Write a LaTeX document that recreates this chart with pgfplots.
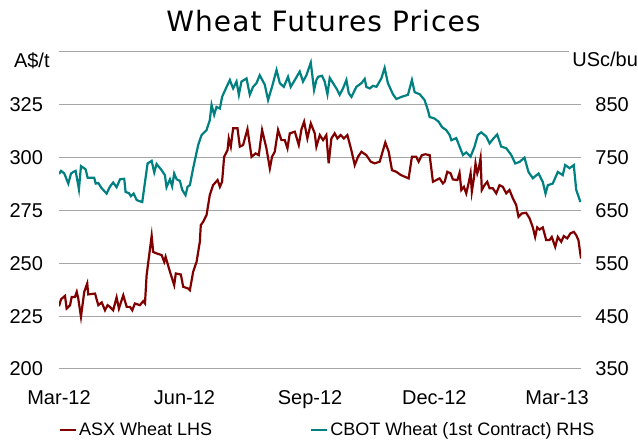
\documentclass[border=0pt]{standalone}
\usepackage{fontspec}
\setmainfont{Liberation Sans}
\newfontfamily\titlefont[LetterSpace=4]{DejaVu Sans}
\usepackage{pgfplots}
\usepackage{pgfplotstable}
\pgfplotsset{compat=1.18}
\definecolor{asx}{RGB}{128,0,0}
\definecolor{cbot}{RGB}{0,128,128}
\definecolor{gridc}{RGB}{166,166,166}

\pgfplotstableread{
day val
0 229.7
1.5 233.0
4.4 234.6
5.6 228.6
8.1 230.2
9.3 234.1
11.7 234.1
13.0 236.5
14.1 233.4
16.1 224.7
18.5 236.5
20.7 240.5
21.4 235.3
26.4 235.7
28.8 230.2
31.3 231.5
33.7 227.8
35.6 230.2
37.3 229.4
39.7 227.8
42.2 233.9
43.9 228.6
47.1 234.9
49.6 229.4
52.0 229.4
53.7 227.8
55.6 231.0
59.3 230.2
61.7 232.1
63.0 231.0
64.2 244.4
67.9 263.0
69.0 255.4
71.5 254.7
75.2 253.9
77.1 250.7
78.1 253.1
81.3 246.0
84.4 239.7
85.6 245.2
89.3 244.7
91.0 238.9
94.6 238.1
95.9 237.3
98.3 246.0
100.8 250.7
103.2 260.2
103.9 268.1
105.6 269.6
108.1 272.8
110.5 282.3
112.9 287.0
116.2 289.4
117.9 286.2
119.5 288.6
121.0 300.4
123.5 303.6
124.4 309.1
125.9 305.2
127.6 313.9
130.8 313.9
132.5 305.2
134.9 306.0
138.1 313.5
141.1 300.4
144.0 302.0
146.4 301.2
148.8 313.1
152.0 304.4
154.5 294.9
156.1 300.4
158.1 302.8
160.5 313.1
163.0 308.3
165.4 308.3
167.4 304.4
169.1 311.5
172.8 312.3
175.7 306.0
177.7 313.5
179.6 317.0
182.0 309.1
184.5 316.2
187.4 311.5
188.6 305.2
191.1 310.7
193.5 308.3
195.9 310.7
197.6 297.3
199.6 309.1
202.0 311.5
204.0 309.1
206.4 310.7
208.8 309.1
211.3 310.7
214.2 303.6
216.7 296.5
219.1 300.4
221.6 302.8
225.2 301.2
228.4 298.1
231.3 297.3
235.0 298.1
239.1 307.2
241.6 302.8
244.0 294.1
247.2 293.3
250.4 291.8
253.3 291.0
256.2 290.2
258.6 300.4
261.8 300.4
263.5 298.1
265.9 301.2
268.4 301.6
271.6 301.2
274.0 288.6
276.5 289.4
278.9 290.2
281.3 287.8
282.6 288.6
284.5 293.3
286.9 292.6
288.6 289.7
291.9 289.4
293.5 292.8
294.8 284.7
296.7 286.2
298.4 283.1
300.1 287.8
301.6 292.6
302.5 283.9
304.0 290.2
305.2 297.3
306.5 292.6
307.6 294.9
308.9 299.7
309.8 284.7
311.8 287.0
313.8 288.6
315.5 285.5
317.9 285.5
320.4 283.1
322.8 287.0
325.2 286.2
327.7 283.1
330.1 284.7
332.6 280.7
335.0 277.6
336.7 272.0
339.1 273.6
342.3 273.9
344.8 271.3
347.2 267.0
348.9 262.5
350.4 267.0
352.1 266.0
354.5 267.0
357.0 261.0
359.4 261.0
361.1 262.5
363.6 257.8
365.5 262.5
368.0 260.2
369.9 262.9
372.4 261.8
374.8 264.2
377.2 264.9
379.0 263.3
380.6 261.0
382.5 252.3
}\asxdata

\pgfplotstableread{
day val
0 719
1.5 725
3.9 720
6.8 701
8.8 720
10.5 723
12.2 725
14.6 690
16.1 734
19.5 728
21.0 712
25.8 712
26.9 701
28.8 702
31.3 692
34.9 682
37.3 695
39.7 703
42.2 694
44.7 709
47.8 710
48.8 685
51.2 683
52.7 677
54.7 682
56.9 670
58.6 668
61.0 666
64.9 739
67.9 744
69.8 722
71.5 738
74.7 728
77.6 717
78.8 694
81.3 709
82.9 696
84.4 720
86.2 709
88.6 706
90.3 689
92.7 679
94.2 695
95.9 698
98.3 730
102.0 774
104.5 793
108.1 802
110.5 821
111.8 850
113.7 831
115.4 846
117.9 843
119.5 865
122.8 884
125.2 897
127.6 881
130.1 894
131.8 869
133.7 894
137.4 900
139.8 869
142.2 884
144.7 891
147.1 906
150.8 888
153.2 859
156.1 884
159.4 916
161.8 891
164.7 884
167.8 903
169.8 884
172.8 897
176.4 913
178.8 894
181.3 906
184.5 930
186.9 878
188.6 897
189.8 903
192.7 905
194.7 894
196.7 870
198.4 901
200.8 891
203.3 881
205.7 869
208.1 881
210.6 897
212.3 872
214.3 865
217.9 884
221.6 891
224.0 899
225.2 884
227.7 881
230.1 886
232.6 884
236.2 900
238.6 920
241.0 891
244.7 870
247.2 861
250.9 865
255.7 869
258.6 897
260.6 874
264.3 870
267.9 859
270.3 840
271.6 827
275.2 824
278.2 818
280.6 808
283.8 802
286.2 793
287.5 783
291.1 787
293.5 771
296.0 755
298.4 760
301.6 752
304.5 771
306.9 793
309.4 798
313.1 790
315.5 777
317.9 785
321.1 794
324.0 771
327.7 768
331.4 755
334.3 739
337.5 742
341.1 750
344.0 723
347.2 711
351.4 720
354.5 704
356.5 682
358.2 698
361.8 701
365.5 723
369.1 717
370.9 736
374.1 730
377.2 736
379.0 689
382.1 666
}\cbotdata

\begin{document}
\begin{tikzpicture}
\useasboundingbox (-29.5pt,-37pt) rectangle (289.5pt,184.5pt);
\pgfplotsset{
  common/.style={
    width=261pt, height=158.5pt, scale only axis,
    xmin=0, xmax=382.5,
    clip mode=individual,
    axis line style={draw=none},
    major tick length=0pt,
    tick style={draw=none},
    /pgf/number format/assume math mode=true,
    tick label style={font=\fontsize{10}{12}\selectfont},
  }
}
\begin{axis}[common,
  axis x line*=bottom, axis y line*=left,
  ymin=200, ymax=350,
  ytick={200,225,250,275,300,325,350},
  yticklabels={200,225,250,275,300,325,{}},
  ymajorgrids,
  grid style={gridc, line width=0.5pt},
  xtick={0,92,184,275,365},
  xticklabels={Mar-12,Jun-12,Sep-12,Dec-12,Mar-13},
  xticklabel style={anchor=north, inner sep=0pt, yshift=-10.8pt},
  yticklabel style={anchor=east, inner sep=0pt, xshift=-7.85pt},
]
\addplot[asx, line width=1.1pt] table[x=day, y=val] {\asxdata};
\node[anchor=east, inner sep=0pt, font=\fontsize{10}{12}\selectfont] at ([xshift=-4.5pt,yshift=-4.5pt]rel axis cs:0,1) {A\$/t};
\node[anchor=base, inner sep=0pt, font=\titlefont\fontsize{14}{16}\selectfont] at ([xshift=1.7pt,yshift=10.15pt]rel axis cs:0.5,1) {Wheat Futures Prices};
\end{axis}
\begin{axis}[common,
  axis x line=none, axis y line*=right,
  ymin=350, ymax=950,
  ytick={350,450,...,850},
  yticklabel style={anchor=west, inner sep=0pt, xshift=7pt},
  legend columns=2,
  legend image code/.code={\draw[#1] (0pt,0pt) -- (8pt,0pt);},
  legend style={at={(0,-0.1924)}, anchor=west, draw=none, fill=none,
    inner sep=0pt, outer sep=0pt,
    font=\fontsize{9}{11}\selectfont,
    nodes={inner sep=1pt},
    /tikz/every even column/.append style={column sep=48pt}},
  legend cell align=left,
]
\addlegendimage{asx, line width=1.1pt}
\addlegendentry{ASX Wheat LHS}
\addplot[cbot, line width=1.1pt] table[x=day, y=val] {\cbotdata};
\addlegendentry{CBOT Wheat (1st Contract) RHS}
\node[anchor=west, fill=white, inner sep=1.5pt, font=\fontsize{10}{12}\selectfont] at ([xshift=-6pt,yshift=-3.9pt]rel axis cs:1,1) {USc/bu};
\end{axis}
\end{tikzpicture}
\end{document}
